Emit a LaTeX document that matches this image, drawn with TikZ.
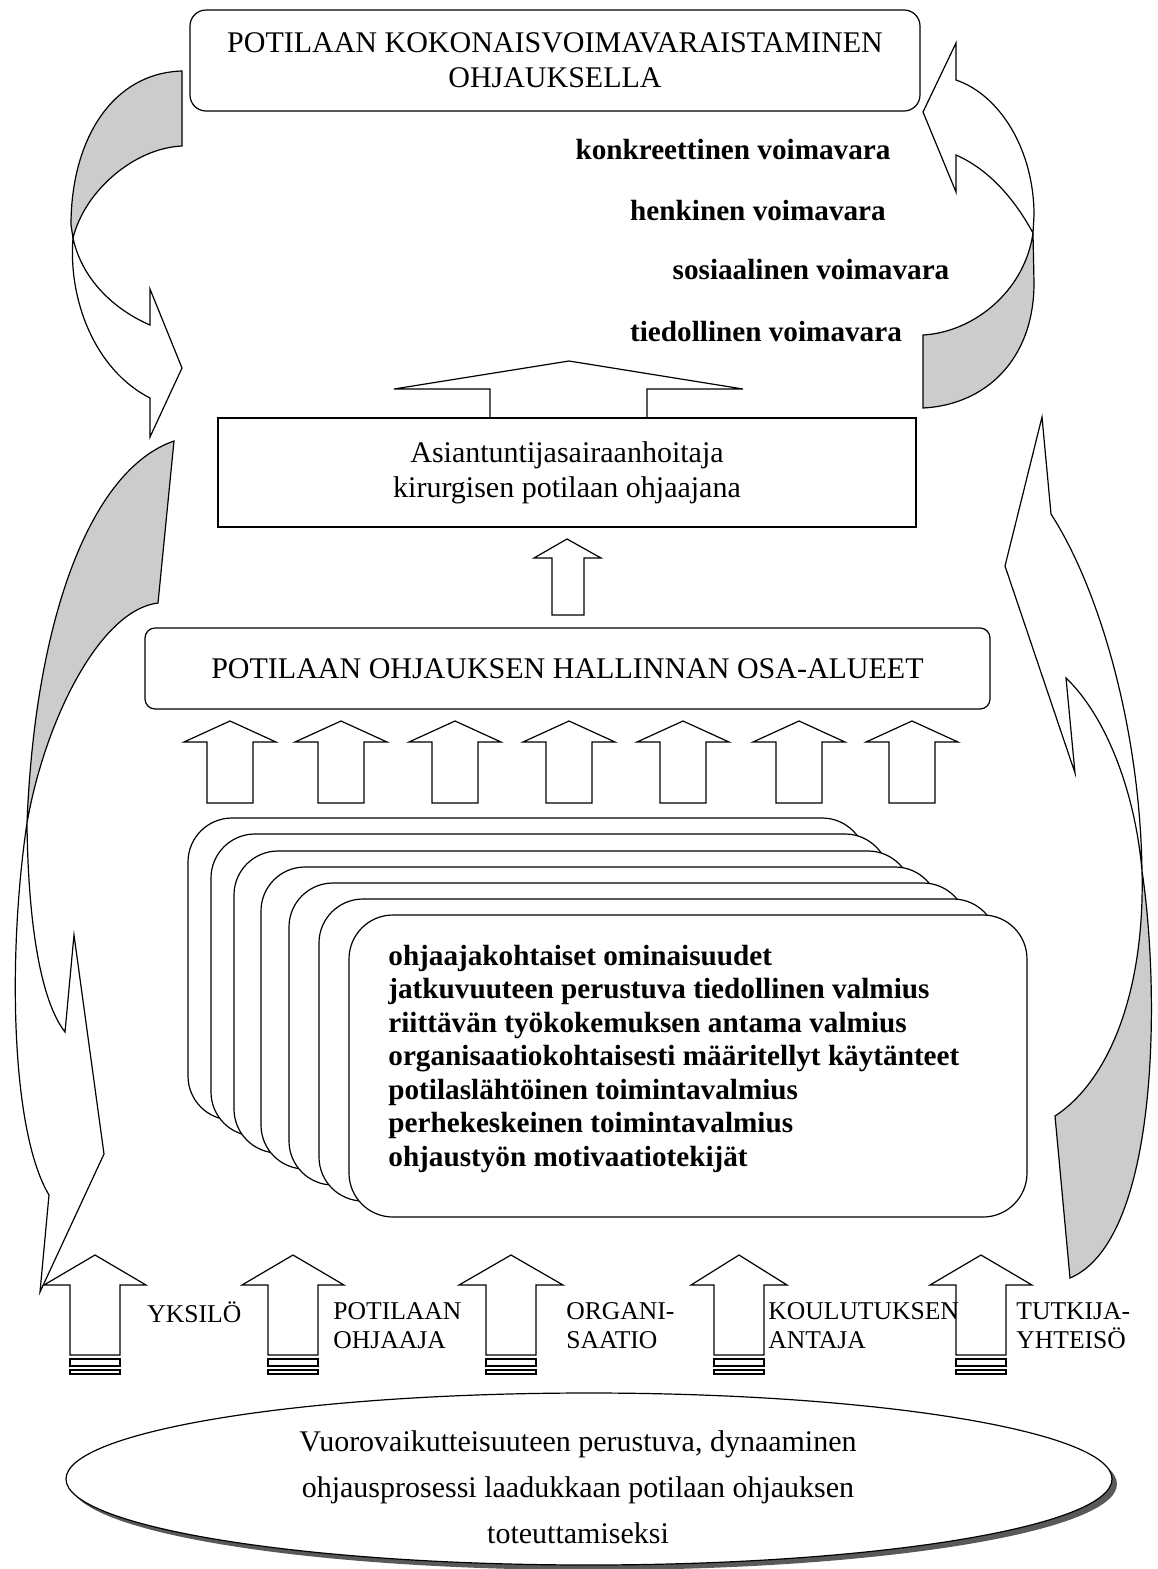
\documentclass[tikz,border=0pt]{standalone}
\usepackage{fontspec}
\setmainfont{Liberation Serif}

\newcommand{\bodyfont}{\fontsize{15}{17.5}\selectfont}
\newcommand{\boldfont}{\fontsize{14.6}{16.75}\selectfont\bfseries}
\newcommand{\labelfont}{\fontsize{12.8}{14.5}\selectfont}

\tikzset{
  shapeline/.style={line width=0.6pt, line join=miter},
  backface/.style={shapeline, fill=gray!40},
  frontface/.style={shapeline, fill=white},
  stackbox/.style={shapeline, fill=white, rounded corners=22pt},
  plain/.style={inner sep=0pt, align=center}
}

\begin{document}
\begin{tikzpicture}[x=0.5pt,y=-0.5pt]
  \useasboundingbox (0,0) rectangle (1157,1569);

  % curved arrows, top
  \draw[backface] (182,71) .. controls (112,73) and (71,140) .. (71,225)
    -- (73,238) .. controls (85,190) and (135,148) .. (182,146) -- cycle;
  \draw[frontface] (73,238) .. controls (68,300) and (95,370) .. (150,398)
    -- (150,437) -- (182,368) -- (150,289) -- (150,325)
    .. controls (115,310) and (82,280) .. (73,238) -- cycle;
  \draw[frontface] (956,80) .. controls (1000,95) and (1034,150) .. (1034,215)
    -- (1033,233) .. controls (1015,200) and (990,170) .. (956,155)
    -- (956,192) -- (923,112) -- (956,43) -- cycle;
  \draw[backface] (1033,233) -- (1034,283) .. controls (1034,360) and (985,405) .. (923,408)
    -- (923,335) .. controls (975,332) and (1025,290) .. (1033,233) -- cycle;

  % curved arrows, long
  \draw[backface] (174,441) .. controls (90,470) and (35,620) .. (27,823)
    .. controls (45,720) and (100,610) .. (158,603) -- cycle;
  \draw[frontface] (27,823) .. controls (8,950) and (10,1130) .. (49,1195)
    -- (40,1292) -- (104,1154) -- (74,935) -- (65,1032)
    .. controls (40,1000) and (28,920) .. (27,823) -- cycle;
  \draw[frontface] (1142,871) .. controls (1140,730) and (1100,590) .. (1051,514)
    -- (1042,417) -- (1005,566) -- (1075,773) -- (1066,678)
    .. controls (1105,715) and (1135,790) .. (1142,871) -- cycle;
  \draw[backface] (1142,871) .. controls (1160,990) and (1160,1240) .. (1070,1278)
    -- (1055,1116) .. controls (1110,1080) and (1145,990) .. (1142,871) -- cycle;

  % title box and resources
  \node[draw, shapeline, fill=white, rounded corners=8pt, minimum width=365pt,
    minimum height=50.5pt, plain, font=\bodyfont] (title) at (555,60.5)
    {POTILAAN KOKONAISVOIMAVARAISTAMINEN\\OHJAUKSELLA};
  \node[plain, font=\boldfont] (konkreettinen) at (733,150) {konkreettinen voimavara};
  \node[plain, font=\boldfont] (henkinen) at (758,211) {henkinen voimavara};
  \node[plain, font=\boldfont] (sosiaalinen) at (811,270) {sosiaalinen voimavara};
  \node[plain, font=\boldfont] (tiedollinen) at (766,332) {tiedollinen voimavara};

  % wide arrow and nurse box
  \draw[frontface] (490,418) -- (490,389) -- (394,389) -- (569,361) -- (743,389)
    -- (647,389) -- (647,418);
  \node[draw, shapeline, fill=white, minimum width=349pt, minimum height=54.5pt,
    plain, font=\bodyfont] (hoitaja) at (567,472.5)
    {Asiantuntijasairaanhoitaja\\kirurgisen potilaan ohjaajana};
  \draw[frontface] (552,615) -- (552,558) -- (534,558) -- (567,539) -- (601,558)
    -- (584,558) -- (584,615) -- cycle;

  % osa-alueet
  \node[draw, shapeline, fill=white, rounded corners=5pt, minimum width=422.5pt,
    minimum height=40.5pt, plain, font=\bodyfont] (osaalueet) at (567.5,668.5)
    {POTILAAN OHJAUKSEN HALLINNAN OSA-ALUEET};
  \foreach \cx in {230,341,455,569,683,799,912}
    \draw[frontface] (\cx-23,803) -- (\cx-23,742) -- (\cx-46,742) -- (\cx,721)
      -- (\cx+46,742) -- (\cx+23,742) -- (\cx+23,803) -- cycle;

  % stacked boxes
  \foreach \bx/\by in {188/818,211/834,234/851,261/867,289/883,319/899,349/915}
    \draw[stackbox] (\bx,\by) rectangle ++(678,302);
  \node[plain, align=left, anchor=west, font=\boldfont] (valmiudet) at (388,1059)
    {ohjaajakohtaiset ominaisuudet\\
     jatkuvuuteen perustuva tiedollinen valmius\\
     riittävän työkokemuksen antama valmius\\
     organisaatiokohtaisesti määritellyt käytänteet\\
     potilaslähtöinen toimintavalmius\\
     perhekeskeinen toimintavalmius\\
     ohjaustyön motivaatiotekijät};

  % bottom arrows
  \foreach \cx/\hw in {95/51,293/51,511/52,739/48,981/51} {
    \draw[frontface] (\cx-25,1355) -- (\cx-25,1285) -- (\cx-\hw,1285) -- (\cx,1255)
      -- (\cx+\hw,1285) -- (\cx+25,1285) -- (\cx+25,1355) -- cycle;
    \draw[frontface] (\cx-25,1359) rectangle (\cx+25,1366);
    \draw[frontface] (\cx-25,1370) rectangle (\cx+25,1374);
  }
  \node[plain, anchor=west, font=\labelfont] (yksilo) at (147,1312) {YKSILÖ};
  \node[plain, align=left, anchor=west, font=\labelfont] (ohjaaja) at (333,1326) {POTILAAN\\OHJAAJA};
  \node[plain, align=left, anchor=west, font=\labelfont] (organisaatio) at (566,1326) {ORGANI-\\SAATIO};
  \node[plain, align=left, anchor=west, font=\labelfont] (kouluttaja) at (768,1326) {KOULUTUKSEN\\ANTAJA};
  \node[plain, align=left, anchor=west, font=\labelfont] (yhteiso) at (1016,1326) {TUTKIJA-\\YHTEISÖ};

  % process ellipse
  \fill[black!65] (594,1484) ellipse [x radius=523, y radius=86];
  \draw[frontface] (589,1479) ellipse [x radius=523, y radius=86];
  \node[plain, font=\fontsize{15}{23}\selectfont] (prosessi) at (578,1487)
    {Vuorovaikutteisuuteen perustuva, dynaaminen\\
     ohjausprosessi laadukkaan potilaan ohjauksen\\
     toteuttamiseksi};
\end{tikzpicture}
\end{document}
